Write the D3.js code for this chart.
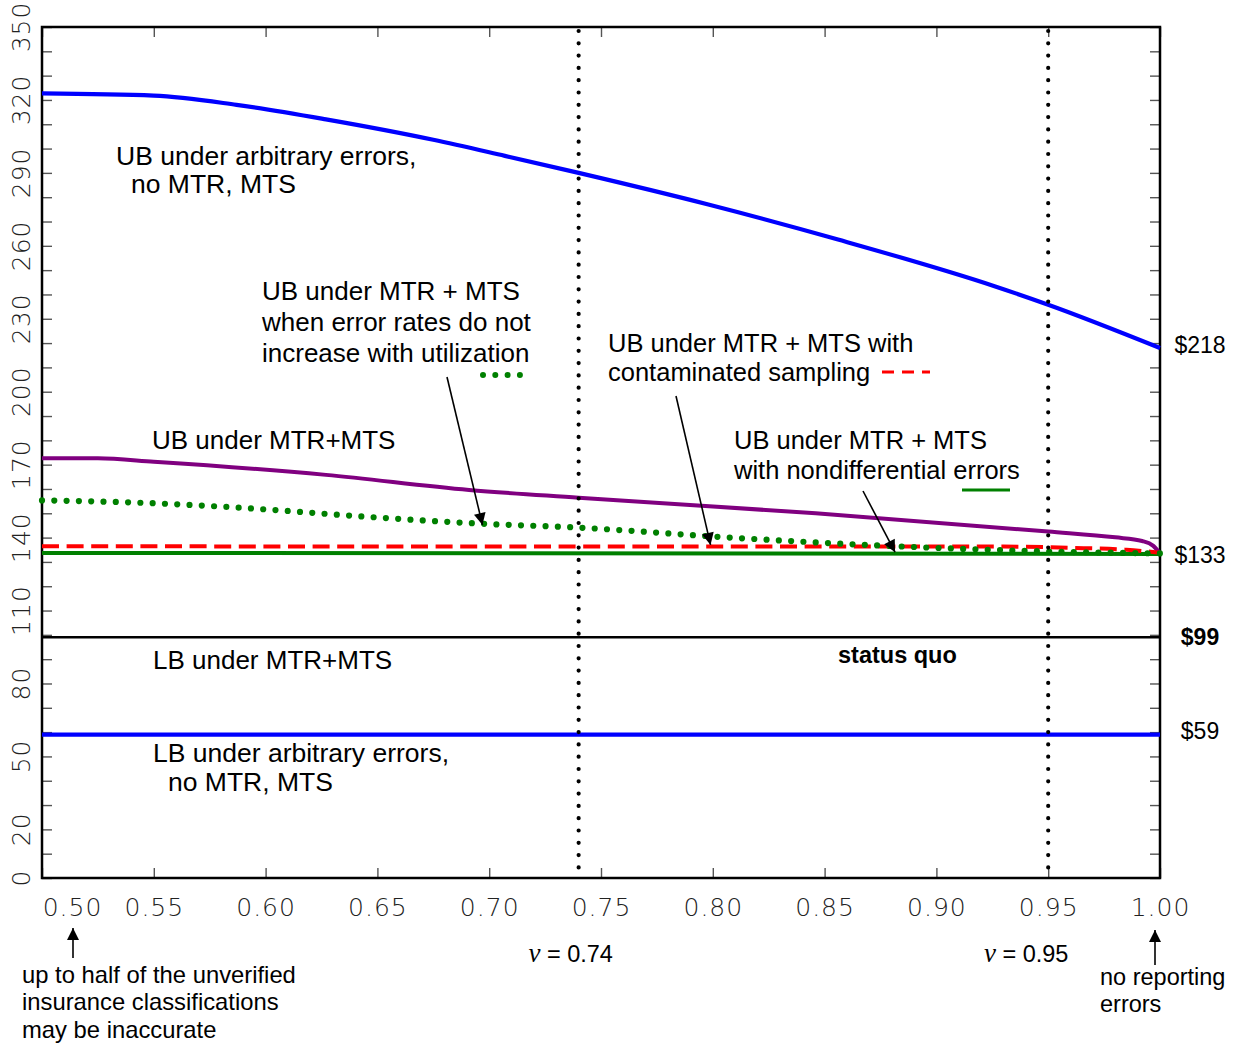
<!DOCTYPE html>
<html>
<head>
<meta charset="utf-8">
<script src="https://cdn.jsdelivr.net/npm/d3@7"></script>
<style>
  html, body { margin: 0; padding: 0; background: #fff; }
  svg { display: block; }
</style>
</head>
<body>
<svg id="chart" width="1236" height="1044"></svg>
<script>
// ---------- data ----------
const xTickValues = [0.50, 0.55, 0.60, 0.65, 0.70, 0.75, 0.80, 0.85, 0.90, 0.95, 1.00];
const yTickLabels = [0, 20, 50, 80, 110, 140, 170, 200, 230, 260, 290, 320, 350];
const yMinorTicks = d3.range(0, 351, 10);

// [v, dollars]
const ubArbitrary   = [[0.50,322.7],[0.55,321.8],[0.587,318],[0.627,312],[0.675,303.6],[0.707,297],[0.74,290],[0.798,277],[0.856,262.6],[0.926,243.4],[0.95,235.8],[1.00,218]];
const ubMtrMts      = [[0.50,172.6],[0.525,172.6],[0.55,171.2],[0.627,165.8],[0.691,159.6],[0.74,156.4],[0.846,150.0],[0.95,142.5],[0.98,140.1],[0.992,138.6],[0.997,136.6],[1.00,133.5]];
const ubNoIncrease  = [[0.50,155.3],[0.548,154.2],[0.595,151.9],[0.643,148.7],[0.697,145.7],[0.74,144.1],[0.806,140.1],[0.873,136.8],[0.95,134.3],[1.00,133.5]];
const ubContaminated= [[0.50,136.4],[0.93,136.3],[0.96,135.8],[0.985,135.0],[1.00,133.8]];
const ubNondiff     = [[0.50,133.7],[1.00,133.3]];
const statusQuo     = [[0.50,99],[1.00,99]];
const lbArbitrary   = [[0.50,59],[1.00,59]];
const vMarks        = [0.74, 0.95];
const endLabels     = [{v:218,t:"$218",bold:false},{v:133,t:"$133",bold:false},{v:99,t:"$99",bold:true},{v:59,t:"$59",bold:false}];

// ---------- layout ----------
const L = 42, R = 1160, T = 27, B = 878;
const svg = d3.select("#chart");
const x = d3.scaleLinear().domain([0.5, 1.0]).range([L, R]);
const y = d3.scaleLinear().domain([0, 350]).range([B, T]);
const SANS = "'Liberation Sans', Arial, sans-serif";
const TICKF = "'DejaVu Sans', sans-serif";

const defs = svg.append("defs");
defs.append("marker").attr("id","ah").attr("viewBox","0 0 10 10")
  .attr("refX",10).attr("refY",5).attr("markerWidth",16).attr("markerHeight",12)
  .attr("markerUnits","userSpaceOnUse").attr("orient","auto")
  .append("path").attr("d","M0,0 L10,5 L0,10 Z").attr("fill","#000");

// ---------- axes ----------
const xAxisB = svg.append("g").attr("transform",`translate(0,${B})`)
  .call(d3.axisBottom(x).tickValues(xTickValues).tickSize(-10).tickPadding(20).tickFormat(d3.format(".2f")));
const xAxisT = svg.append("g").attr("transform",`translate(0,${T})`)
  .call(d3.axisTop(x).tickValues(xTickValues).tickSize(-10).tickFormat(""));
const yAxisL = svg.append("g").attr("transform",`translate(${L},0)`)
  .call(d3.axisLeft(y).tickValues(yMinorTicks).tickSize(-10).tickFormat(""));
const yAxisR = svg.append("g").attr("transform",`translate(${R},0)`)
  .call(d3.axisRight(y).tickValues(yMinorTicks).tickSize(-10).tickFormat(""));

[xAxisB, xAxisT, yAxisL, yAxisR].forEach(g => {
  g.select(".domain").remove();
  g.selectAll(".tick line").attr("stroke","#555").attr("stroke-width",1.4);
});
xAxisB.selectAll(".tick text")
  .attr("font-family",TICKF).attr("font-weight",200).attr("font-size",25)
  .attr("letter-spacing","1px").attr("fill","#222")
  .attr("dx", d => d === 0.5 ? 30 : 0);

svg.append("g").selectAll("text").data(yTickLabels).join("text")
  .attr("transform", d => `translate(30,${y(d)}) rotate(-90)`)
  .attr("text-anchor","middle")
  .attr("font-family",TICKF).attr("font-weight",200).attr("font-size",25)
  .attr("letter-spacing","1px").attr("fill","#222")
  .text(d => d);

svg.append("rect").attr("x",L).attr("y",T).attr("width",R-L).attr("height",B-T)
  .attr("fill","none").attr("stroke","#000").attr("stroke-width",2.5);

// ---------- series ----------
const line = d3.line().x(d => x(d[0])).y(d => y(d[1]));
const smooth = d3.line().x(d => x(d[0])).y(d => y(d[1])).curve(d3.curveMonotoneX);

svg.append("path").datum(statusQuo).attr("d",line).attr("fill","none").attr("stroke","#000").attr("stroke-width",2.5);
svg.append("path").datum(lbArbitrary).attr("d",line).attr("fill","none").attr("stroke","#0000ff").attr("stroke-width",4.2);
svg.append("path").datum(ubArbitrary).attr("d",smooth).attr("fill","none").attr("stroke","#0000ff").attr("stroke-width",4.2);
svg.append("path").datum(ubMtrMts).attr("d",smooth).attr("fill","none").attr("stroke","#800080").attr("stroke-width",4);
svg.append("path").datum(ubNondiff).attr("d",line).attr("fill","none").attr("stroke","#008000").attr("stroke-width",4);
svg.append("path").datum(ubContaminated).attr("d",smooth).attr("fill","none").attr("stroke","#ff0000")
  .attr("stroke-width",4).attr("stroke-dasharray","17,7.6").attr("stroke-linecap","butt");
svg.append("path").datum(ubNoIncrease).attr("d",smooth).attr("fill","none").attr("stroke","#008000")
  .attr("stroke-width",6.2).attr("stroke-dasharray","0,12.3").attr("stroke-linecap","round");

svg.append("g").selectAll("line").data(vMarks).join("line")
  .attr("x1",d=>x(d)).attr("x2",d=>x(d)).attr("y1",T+4).attr("y2",B)
  .attr("stroke","#000").attr("stroke-width",4.2).attr("stroke-dasharray","0,12.3").attr("stroke-linecap","round");

// ---------- annotations ----------
function txt(xp, yp, s, opts = {}) {
  return svg.append("text").attr("x",xp).attr("y",yp)
    .attr("font-family",SANS).attr("font-size",opts.size || 26)
    .attr("font-weight",opts.bold ? "bold" : "normal")
    .attr("text-anchor",opts.anchor || "start").attr("fill","#000").text(s);
}
txt(116,165,"UB under arbitrary errors,",{size:26.5});
txt(131,193,"no MTR, MTS",{size:26.5});
txt(262,300,"UB under MTR + MTS");
txt(262,331,"when error rates do not");
txt(262,362,"increase with utilization");
txt(608,352,"UB under MTR + MTS with",{size:25.5});
txt(608,381,"contaminated sampling",{size:25.5});
txt(734,449,"UB under MTR + MTS",{size:25.5});
txt(734,479,"with nondifferential errors",{size:25.5});
txt(152,449,"UB under MTR+MTS");
txt(153,669,"LB under MTR+MTS");
txt(838,663,"status quo",{bold:true,size:23.5});
txt(153,762,"LB under arbitrary errors,",{size:26.5});
txt(168,791,"no MTR, MTS",{size:26.5});

// legend swatches
svg.append("line").attr("x1",483).attr("x2",520).attr("y1",375).attr("y2",375)
  .attr("stroke","#008000").attr("stroke-width",6).attr("stroke-dasharray","0,12.3").attr("stroke-linecap","round");
svg.append("line").attr("x1",882).attr("x2",930).attr("y1",372).attr("y2",372)
  .attr("stroke","#ff0000").attr("stroke-width",2.8).attr("stroke-dasharray","12,8");
svg.append("line").attr("x1",962).attr("x2",1010).attr("y1",490).attr("y2",490)
  .attr("stroke","#008000").attr("stroke-width",2.8);

const arrows = [
  {from:[447,377], tip:[0.697,145.2]},
  {from:[676,396], tip:[0.799,137.0]},
  {from:[863,491], tip:[0.8815,134.0]}
];
svg.append("g").selectAll("line").data(arrows).join("line")
  .attr("x1",d=>d.from[0]).attr("y1",d=>d.from[1])
  .attr("x2",d=>x(d.tip[0])).attr("y2",d=>y(d.tip[1]))
  .attr("stroke","#000").attr("stroke-width",1.6).attr("marker-end","url(#ah)");

svg.append("g").selectAll("text").data(endLabels).join("text")
  .attr("x",1200).attr("y",d=>y(d.v)+(d.v===218?5:d.v===59?4:8)).attr("text-anchor","middle")
  .attr("font-family",SANS).attr("font-size",23).attr("font-weight",d=>d.bold?"bold":"normal")
  .text(d=>d.t);

const vLabelShift = [-8, -22];
vMarks.forEach((v, i) => {
  const t = svg.append("text").attr("x",x(v)+vLabelShift[i]).attr("y",962).attr("text-anchor","middle")
    .attr("font-family",SANS).attr("font-size",23.5);
  t.append("tspan").attr("font-family","'Liberation Serif', 'Times New Roman', serif").attr("font-style","italic").attr("font-size",27).text("ν");
  t.append("tspan").text(" = " + v.toFixed(2));
});

svg.append("line").attr("x1",73).attr("x2",73).attr("y1",958).attr("y2",928)
  .attr("stroke","#000").attr("stroke-width",1.6).attr("marker-end","url(#ah)");
svg.append("line").attr("x1",1155).attr("x2",1155).attr("y1",965).attr("y2",930)
  .attr("stroke","#000").attr("stroke-width",1.6).attr("marker-end","url(#ah)");
txt(22,983,"up to half of the unverified",{size:23.8});
txt(22,1010,"insurance classifications",{size:23.8});
txt(22,1038,"may be inaccurate",{size:23.8});
txt(1100,985,"no reporting",{size:23.5});
txt(1100,1012,"errors",{size:23.5});
</script>
</body>
</html>
